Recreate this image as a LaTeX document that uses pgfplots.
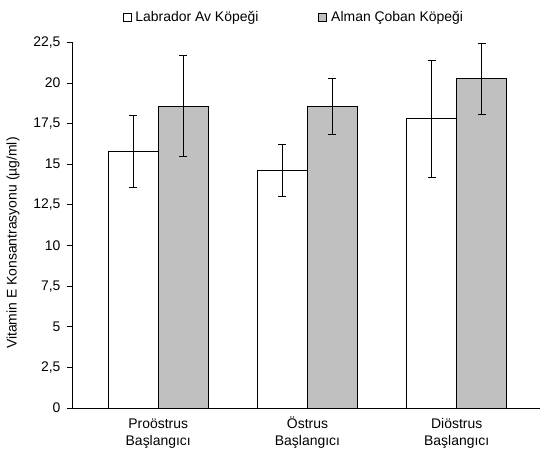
\documentclass[border=0pt]{standalone}
\usepackage{fontspec}
\setmainfont{Liberation Sans}
\usepackage{pgfplots}
\pgfplotsset{compat=1.18}
\definecolor{barGrey}{HTML}{C0C0C0}

\begin{document}
\begin{tikzpicture}[font=\fontsize{14}{17}\selectfont]
\path[use as bounding box] (0,0) rectangle (540bp,449bp);
\begin{axis}[
    at={(72bp,41bp)}, anchor=south west,
    scale only axis, width=468bp, height=365.7bp,
    ybar=0pt, bar width=50bp,
    xmin=-0.578, xmax=2.558,
    ymin=0, ymax=22.5,
    axis x line*=bottom, axis y line*=left,
    axis line style={line width=0.8bp, black},
    xtick={0,1,2},
    xticklabels={\vphantom{Ö}Proöstrus\\Başlangıcı, \vphantom{Ö}Östrus\\Başlangıcı, \vphantom{Ö}Diöstrus\\Başlangıcı},
    xticklabel style={align=center},
    x tick style={draw=none},
    ytick={0,2.5,5,7.5,10,12.5,15,17.5,20,22.5},
    yticklabel style={xshift=-3bp},
    tick align=outside, major tick length=5bp,
    y tick style={line width=0.8bp, black},
    /pgf/number format/.cd, fixed, precision=1, use comma, assume math mode=true,
    /pgfplots/.cd,
    ylabel={Vitamin E Konsantrasyonu (µg/ml)},
    ylabel style={at={(axis description cs:-0.126,0.451)}, anchor=center},
    legend image code/.code={\draw[#1, line width=0.8bp] (0bp,-4bp) rectangle (8bp,4bp); \path (10bp,0bp);},
    legend style={draw=none, fill=none, legend columns=2,
        at={(0.474,1.069)}, anchor=center,
        /tikz/every even column/.append style={column sep=58bp}},
]
\addplot[draw=black, fill=white, line width=0.8bp,
    error bars/.cd, y dir=both, y explicit,
    error bar style={line width=0.8bp, black},
    error mark options={rotate=90, mark size=4bp, black, line width=0.8bp}]
    coordinates {(0,15.78) +- (0,2.22) (1,14.62) +- (0,1.62) (2,17.80) +- (0,3.60)};
\addplot[draw=black, fill=barGrey, line width=0.8bp,
    error bars/.cd, y dir=both, y explicit,
    error bar style={line width=0.8bp, black},
    error mark options={rotate=90, mark size=4bp, black, line width=0.8bp}]
    coordinates {(0,18.58) +- (0,3.13) (1,18.55) +- (0,1.73) (2,20.25) +- (0,2.16)};
\legend{Labrador Av Köpeği, Alman Çoban Köpeği}
\end{axis}
\end{tikzpicture}
\end{document}
